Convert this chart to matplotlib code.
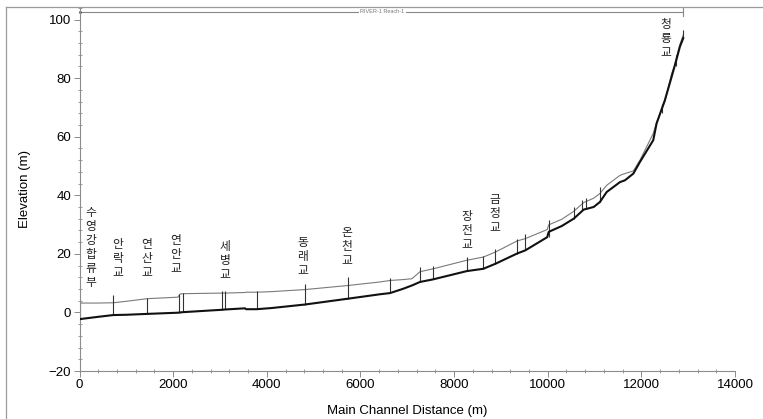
import matplotlib
matplotlib.use("Agg")
import matplotlib.pyplot as plt
from matplotlib.lines import Line2D
from matplotlib.ticker import MultipleLocator

plt.rcParams['font.family'] = ['Liberation Sans', 'DejaVu Sans']

# ---- data ----
station = [0, 400, 722, 1000, 1450, 2100, 2150, 2220, 3040, 3110, 3534, 3560, 3784,
           4104, 4816, 5740, 6418, 6631, 6900, 7100, 7272, 7557, 8269, 8625, 8882,
           9345, 9523, 9990, 10021, 10300, 10555, 10768, 10982, 11115, 11259, 11544,
           11649, 11829, 11971, 12254, 12325, 12503, 12646, 12716, 12823, 12894]
bed = [-2.3, -1.5, -0.9, -0.8, -0.5, -0.1, 0.0, 0.1, 0.9, 1.0, 1.4, 1.1, 1.1,
       1.5, 2.7, 4.7, 6.2, 6.6, 8.0, 9.2, 10.4, 11.3, 14.1, 14.9, 16.6,
       20.1, 21.2, 25.7, 27.5, 29.5, 32.0, 35.1, 36.0, 37.7, 41.1, 44.5,
       45.1, 47.4, 51.4, 58.8, 64.5, 72.5, 80.4, 84.4, 90.7, 93.6]
wsel = [3.2, 3.2, 3.3, 3.8, 4.7, 5.2, 6.3, 6.4, 6.6, 6.6, 6.8, 6.9, 6.9,
        7.1, 7.8, 9.2, 10.4, 10.9, 11.2, 11.5, 13.9, 14.9, 17.8, 18.9, 20.6,
        24.4, 25.2, 28.3, 29.9, 31.8, 34.5, 37.5, 39.0, 40.6, 43.4, 46.8,
        47.4, 48.3, 52.0, 61.1, 64.8, 72.0, 81.5, 84.6, 91.5, 94.7]

xs_station = [0, 722, 1450, 2120, 2220, 3040, 3110, 3784, 4816, 5740, 6631, 7272,
              7557, 8269, 8625, 8882, 9345, 9523, 10021, 10555, 10733, 10820, 11115,
              12432, 12750, 12894]
xs_bottom = [-2.3, -0.9, -0.5, -0.05, 0.1, 0.9, 1.0, 1.1, 2.7, 4.7, 6.6, 10.4,
             11.3, 14.1, 14.9, 16.6, 20.1, 21.2, 25.7, 32.0, 34.8, 35.3, 37.7,
             68.0, 84.0, 93.6]
xs_top = [4.7, 5.8, 5.0, 6.3, 6.6, 7.3, 7.3, 7.2, 9.8, 12.1, 11.9, 15.5,
          15.8, 18.9, 19.3, 21.8, 24.9, 26.9, 31.5, 36.0, 38.3, 38.9, 42.8,
          71.0, 88.0, 96.5]

labels = ['수영강합류부', '안락교', '연산교', '연안교', '세병교', '동래교', '온천교',
          '장전교', '금정교', '청룡교']
label_x = [245, 822, 1442, 2061, 3108, 4774, 5714, 8277, 8875, 12527]
label_y = [22.0, 18.5, 18.5, 19.8, 17.6, 19.1, 22.6, 28.0, 33.8, 93.5]

reach_name = 'RIVER-1 Reach-1'
reach_start, reach_end, reach_y = 0, 12894, 102.6

# ---- figure ----
fig = plt.figure(figsize=(7.63, 4.19), dpi=100)
ax = fig.add_axes([79.5 / 763, 48 / 419, 655.5 / 763, 363.2 / 419])

ax.plot(station, wsel, color='#7a7a7a', lw=0.8, zorder=2)
ax.plot(station, bed, color='#111111', lw=1.5, zorder=3)
ax.vlines(xs_station, xs_bottom, xs_top, color='#333333', lw=0.8, zorder=2)

for t, x, y in zip(labels, label_x, label_y):
    ax.text(x, y, '\n'.join(t), family=['Noto Sans CJK KR', 'DejaVu Sans'],
            fontsize=8.5, ha='center', va='center', linespacing=1.1,
            color='#222222', zorder=4)

# reach bracket
ax.plot([reach_start, reach_end], [reach_y, reach_y], color='#888888', lw=0.8,
        clip_on=False, zorder=1)
ax.plot([reach_end, reach_end], [reach_y - 1.5, reach_y + 1.5], color='#888888',
        lw=0.8, clip_on=False)
ax.plot([reach_start], [reach_y], marker='.', ms=2, color='#444444', clip_on=False)
ax.text(reach_end / 2 + 20, reach_y, reach_name, fontsize=4, color='#777777',
        ha='center', va='center',
        bbox=dict(facecolor='white', edgecolor='none', pad=1.0), zorder=5)

ax.set_xlim(0, 14000)
ax.set_ylim(-20, 104)
ax.set_xticks(range(0, 14001, 2000))
ax.set_yticks(range(-20, 101, 20))
ax.xaxis.set_minor_locator(MultipleLocator(400))
ax.yaxis.set_minor_locator(MultipleLocator(4))

for s in ['top', 'right']:
    ax.spines[s].set_visible(False)
for s in ['left', 'bottom']:
    ax.spines[s].set_color('#8c8c8c')
    ax.spines[s].set_linewidth(0.8)

ax.tick_params(axis='both', which='major', direction='out', length=4,
               width=0.7, color='#8c8c8c', labelsize=9.5, pad=2)
ax.tick_params(axis='both', which='minor', direction='inout', length=3,
               width=0.6, color='#8c8c8c')

ax.set_xlabel('Main Channel Distance (m)', fontsize=9.5, labelpad=10)
ax.set_ylabel('Elevation (m)', fontsize=9.5, labelpad=13)

# outer frame lines (left and top)
fig.add_artist(Line2D([6 / 763, 6 / 763], [0, 1 - 7 / 419], transform=fig.transFigure,
                      color='#9a9a9a', lw=0.9))
fig.add_artist(Line2D([6 / 763, 1], [1 - 7 / 419, 1 - 7 / 419], transform=fig.transFigure,
                      color='#9a9a9a', lw=0.9))

fig.savefig('out.png', dpi=100)
